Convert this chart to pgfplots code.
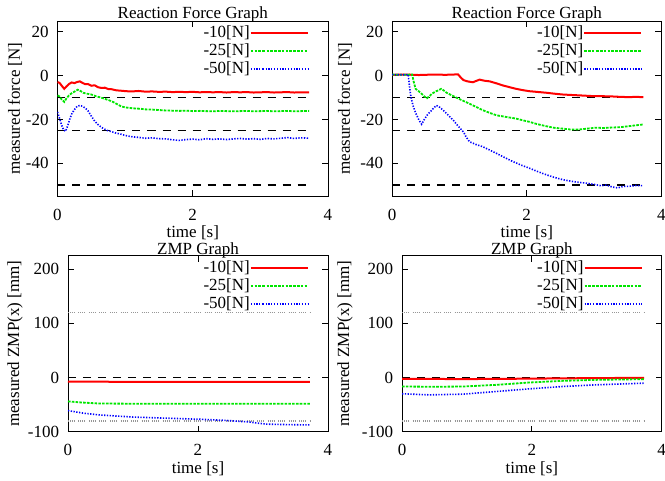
\documentclass[border=0pt]{standalone}
\usepackage{fontspec}
\setmainfont{Liberation Serif}
\usepackage{pgfplots}
\pgfplotsset{compat=1.18}

\definecolor{gpred}{RGB}{255,0,0}
\definecolor{gpgreen}{RGB}{0,230,0}
\definecolor{gpblue}{RGB}{0,0,255}
\definecolor{gpgray}{RGB}{150,150,150}

\pgfplotsset{
  gp/.style={
    scale only axis,
    xmin=0, xmax=4, xtick={0,2,4},
    tick align=inside, tick pos=both, major tick length=6pt,
    minor tick num=0,
    axis line style={line width=0.9pt},
    every tick/.style={line width=0.9pt, black},
    /pgf/number format/assume math mode=true,
    xticklabel style={yshift=-7pt},
    yticklabel style={xshift=-3pt},
    xlabel={time [s]},
    legend style={draw=none, fill=none, at={(1,1)}, anchor=north east,
      xshift=-16pt, yshift=-3pt, row sep=3.5pt,
      nodes={inner sep=0pt}},
    legend plot pos=right, legend cell align=right,
    legend image code/.code={\path (0pt,0pt) -- (12pt,0pt);
      \draw[##1] (12pt,0pt) -- (57pt,0pt);},
  },
  rs/.style={gpred, line width=2pt},
  gs/.style={gpgreen, line width=1.8pt, dash pattern=on 2.6pt off 1.2pt},
  bs/.style={gpblue, line width=1.6pt, dash pattern=on 1.3pt off 1.5pt},
  ref/.style={black, line width=1.2pt, dash pattern=on 8pt off 7pt, forget plot},
  grf/.style={gpgray, line width=1.4pt, dash pattern=on 1pt off 1pt on 1pt off 1pt on 1pt off 1pt on 1pt off 3.5pt, forget plot},
}

\begin{document}
\fontsize{17}{20}\selectfont
\begin{tikzpicture}
\useasboundingbox (0,0) rectangle (665pt,481pt);

% top left
\begin{axis}[gp, at={(57.5pt,285pt)}, anchor=south west,
  width=270.5pt, height=175pt, ymin=-55, ymax=25, ytick={-40,-20,0,20},
  title={Reaction Force Graph},
  title style={at={(axis description cs:0.5,1.048)}, anchor=center, inner sep=0pt, yshift=-8pt},
  ylabel={measured force [N]},
  ylabel style={at={(axis description cs:-0.157,0.5)}, anchor=center},
  xlabel style={at={(axis description cs:0.5,-0.21)}, anchor=center}]
\addplot[ref] coordinates {(0,-10) (3.72,-10)};
\addplot[ref] coordinates {(0,-25) (3.72,-25)};
\addplot[ref] coordinates {(0,-50) (3.72,-50)};
\addplot[rs] coordinates {
(0,-2.9) (0.03,-3.3) (0.06,-4.5) (0.1,-6.0) (0.13,-5.0) (0.17,-3.8) (0.21,-3.1) (0.25,-3.4)
(0.29,-2.9) (0.33,-2.6) (0.37,-3.3) (0.41,-3.9) (0.45,-3.8) (0.5,-4.6) (0.55,-4.4) (0.6,-5.3)
(0.65,-5.6) (0.7,-5.5) (0.75,-6.1) (0.8,-6.2) (0.87,-6.7) (0.95,-6.9) (1.02,-7.1) (1.1,-7.2)
(1.2,-7.0) (1.3,-7.3) (1.4,-7.2) (1.5,-7.4) (1.6,-7.3) (1.7,-7.5) (1.8,-7.4) (1.9,-7.5)
(2.0,-7.4) (2.1,-7.6) (2.2,-7.5) (2.3,-7.6) (2.4,-7.5) (2.5,-7.7) (2.6,-7.5) (2.7,-7.6)
(2.8,-7.5) (2.9,-7.7) (3.0,-7.6) (3.1,-7.5) (3.2,-7.7) (3.3,-7.6) (3.4,-7.5) (3.5,-7.7)
(3.6,-7.6) (3.72,-7.6)};
\addlegendentry{-10[N]}
\addplot[gs] coordinates {
(0,-9.0) (0.03,-9.5) (0.06,-10.8) (0.1,-12.0) (0.13,-10.5) (0.17,-9.0) (0.21,-8.0) (0.25,-7.3)
(0.3,-6.4) (0.34,-7.0) (0.38,-7.8) (0.43,-8.2) (0.5,-8.6) (0.56,-9.3) (0.63,-9.9) (0.7,-10.6)
(0.76,-11.2) (0.82,-12.0) (0.88,-13.0) (0.94,-14.0) (1.0,-14.5) (1.08,-14.8) (1.15,-15.0)
(1.22,-15.1) (1.3,-15.4) (1.4,-15.5) (1.5,-15.7) (1.6,-15.9) (1.7,-16.0) (1.8,-16.1) (1.9,-16.0)
(2.0,-16.2) (2.1,-16.1) (2.2,-16.2) (2.3,-16.3) (2.4,-16.1) (2.5,-16.2) (2.6,-16.3) (2.7,-16.2)
(2.8,-16.1) (2.9,-16.3) (3.0,-16.2) (3.1,-16.1) (3.2,-16.3) (3.3,-16.2) (3.4,-16.1) (3.5,-16.3)
(3.6,-16.2) (3.72,-16.1)};
\addlegendentry{-25[N]}
\addplot[bs] coordinates {
(0,-16.6) (0.03,-19.5) (0.06,-22.5) (0.09,-24.8) (0.12,-25.4) (0.15,-23.0) (0.18,-20.0) (0.21,-17.5)
(0.25,-15.5) (0.29,-14.0) (0.33,-13.6) (0.37,-14.0) (0.41,-14.8) (0.45,-16.0) (0.5,-18.5) (0.55,-20.8)
(0.6,-22.4) (0.66,-23.8) (0.73,-25.0) (0.8,-25.6) (0.86,-26.2) (0.92,-26.6) (1.0,-27.3) (1.06,-27.7)
(1.12,-28.0) (1.2,-28.2) (1.3,-28.6) (1.4,-28.4) (1.5,-28.8) (1.6,-28.9) (1.7,-29.3) (1.8,-29.6)
(1.9,-29.2) (2.0,-29.0) (2.1,-29.3) (2.2,-28.8) (2.3,-29.1) (2.4,-28.9) (2.5,-29.2) (2.6,-28.9)
(2.7,-28.7) (2.8,-29.0) (2.9,-28.8) (3.0,-29.1) (3.1,-28.7) (3.2,-28.9) (3.3,-28.6) (3.4,-28.3)
(3.5,-28.7) (3.6,-28.4) (3.72,-28.6)};
\addlegendentry{-50[N]}
\end{axis}

% top right
\begin{axis}[gp, at={(392pt,285pt)}, anchor=south west,
  width=269.5pt, height=175pt, ymin=-55, ymax=25, ytick={-40,-20,0,20},
  title={Reaction Force Graph},
  title style={at={(axis description cs:0.5,1.048)}, anchor=center, inner sep=0pt, yshift=-8pt},
  ylabel={measured force [N]},
  ylabel style={at={(axis description cs:-0.174,0.5)}, anchor=center},
  xlabel style={at={(axis description cs:0.5,-0.21)}, anchor=center}]
\addplot[ref] coordinates {(0,-10) (3.73,-10)};
\addplot[ref] coordinates {(0,-25) (3.73,-25)};
\addplot[ref] coordinates {(0,-50) (3.73,-50)};
\addplot[rs] coordinates {
(0,0.4) (0.2,0.5) (0.4,0.3) (0.6,0.5) (0.8,0.4) (0.98,0.6) (1.02,-0.8) (1.06,-2.0) (1.12,-2.6)
(1.2,-3.0) (1.25,-2.4) (1.3,-1.8) (1.37,-2.3) (1.45,-2.6) (1.55,-3.5) (1.65,-4.5) (1.75,-5.3)
(1.84,-6.0) (1.94,-6.6) (2.04,-7.1) (2.15,-7.4) (2.29,-7.8) (2.4,-8.2) (2.53,-8.6) (2.65,-8.8)
(2.78,-9.0) (2.9,-9.2) (3.02,-9.4) (3.15,-9.4) (3.27,-9.5) (3.4,-9.7) (3.51,-9.8) (3.62,-9.7)
(3.73,-9.8)};
\addlegendentry{-10[N]}
\addplot[gs] coordinates {
(0,0.5) (0.15,0.4) (0.3,0.5) (0.32,-2.5) (0.35,-6.0) (0.4,-7.2) (0.44,-8.3) (0.48,-9.5)
(0.52,-10.3) (0.56,-9.2) (0.59,-8.3) (0.65,-7.2) (0.7,-6.5) (0.73,-6.0) (0.77,-6.8) (0.81,-7.8)
(0.88,-8.9) (0.96,-10.1) (1.05,-11.4) (1.15,-12.8) (1.25,-14.3) (1.35,-15.8) (1.45,-17.0)
(1.55,-18.1) (1.7,-18.9) (1.84,-19.6) (1.94,-20.4) (2.04,-21.1) (2.15,-22.1) (2.29,-23.1)
(2.4,-23.8) (2.53,-24.2) (2.65,-24.6) (2.78,-24.6) (2.9,-24.2) (3.02,-23.8) (3.15,-23.9)
(3.27,-23.7) (3.4,-23.5) (3.51,-23.1) (3.62,-22.7) (3.73,-22.3)};
\addlegendentry{-25[N]}
\addplot[bs] coordinates {
(0,0.5) (0.12,0.4) (0.24,0.5) (0.26,-5.0) (0.28,-9.5) (0.31,-13.5) (0.35,-17.0) (0.4,-20.3)
(0.44,-22.2) (0.48,-20.0) (0.52,-18.1) (0.57,-16.4) (0.61,-15.1) (0.66,-13.6) (0.71,-14.5)
(0.76,-15.8) (0.84,-18.2) (0.91,-20.4) (0.98,-23.0) (1.06,-25.7) (1.1,-28.0) (1.15,-30.2)
(1.25,-31.5) (1.35,-32.5) (1.45,-34.0) (1.55,-35.5) (1.67,-37.4) (1.79,-39.2) (1.91,-40.8)
(2.04,-42.3) (2.16,-43.8) (2.29,-45.3) (2.41,-46.5) (2.53,-47.5) (2.65,-48.2) (2.78,-48.8)
(2.9,-49.2) (3.02,-49.8) (3.1,-50.3) (3.18,-50.0) (3.27,-50.9) (3.35,-51.3) (3.43,-50.6)
(3.51,-50.6) (3.62,-50.2) (3.73,-50.3)};
\addlegendentry{-50[N]}
\end{axis}

% bottom left
\begin{axis}[gp, at={(68pt,49.3pt)}, anchor=south west,
  width=260pt, height=176pt, ymin=-100, ymax=225, ytick={-100,0,100,200},
  title={ZMP Graph},
  title style={at={(axis description cs:0.5,1.042)}, anchor=center, inner sep=0pt, yshift=-8pt},
  ylabel={measured ZMP(x) [mm]},
  ylabel style={at={(axis description cs:-0.204,0.5)}, anchor=center},
  xlabel style={at={(axis description cs:0.5,-0.21)}, anchor=center}]
\addplot[grf] coordinates {(0,120) (3.72,120)};
\addplot[grf] coordinates {(0,-80) (3.72,-80)};
\addplot[ref] coordinates {(0,0) (3.72,0)};
\addplot[rs] coordinates {(0,-7.4) (1,-8) (2,-8) (3,-8) (3.72,-8)};
\addlegendentry{-10[N]}
\addplot[gs] coordinates {(0,-44) (0.2,-46) (0.48,-48) (1,-48.3) (2,-48.5) (3,-48.5) (3.72,-48.5)};
\addlegendentry{-25[N]}
\addplot[bs] coordinates {(0,-61) (0.25,-66) (0.48,-69) (1,-73) (1.5,-75) (2.02,-77) (2.4,-79)
(2.78,-82) (3.04,-86) (3.4,-87) (3.72,-87.5)};
\addlegendentry{-50[N]}
\end{axis}

% bottom right
\begin{axis}[gp, at={(402pt,49.3pt)}, anchor=south west,
  width=259.7pt, height=176pt, ymin=-100, ymax=225, ytick={-100,0,100,200},
  title={ZMP Graph},
  title style={at={(axis description cs:0.5,1.042)}, anchor=center, inner sep=0pt, yshift=-8pt},
  ylabel={measured ZMP(x) [mm]},
  ylabel style={at={(axis description cs:-0.219,0.5)}, anchor=center},
  xlabel style={at={(axis description cs:0.5,-0.21)}, anchor=center}]
\addplot[grf] coordinates {(0,120) (3.73,120)};
\addplot[grf] coordinates {(0,-80) (3.73,-80)};
\addplot[ref] coordinates {(0,0) (3.73,0)};
\addplot[rs] coordinates {(0,-2.5) (1.0,-2.8) (1.5,-2.5) (2.0,-2.0) (2.5,-1.5) (3.0,-1.0) (3.73,-0.6)};
\addlegendentry{-10[N]}
\addplot[gs] coordinates {(0,-16.6) (0.5,-17.0) (0.94,-16.6) (1.45,-13.5) (1.96,-9.2) (2.47,-6.1)
(2.98,-4.3) (3.73,-3)};
\addlegendentry{-25[N]}
\addplot[bs] coordinates {(0,-30) (0.42,-32) (0.94,-30.7) (1.45,-25.8) (1.96,-20.9) (2.47,-16.6)
(2.98,-13.5) (3.73,-10.4)};
\addlegendentry{-50[N]}
\end{axis}
\end{tikzpicture}
\end{document}
